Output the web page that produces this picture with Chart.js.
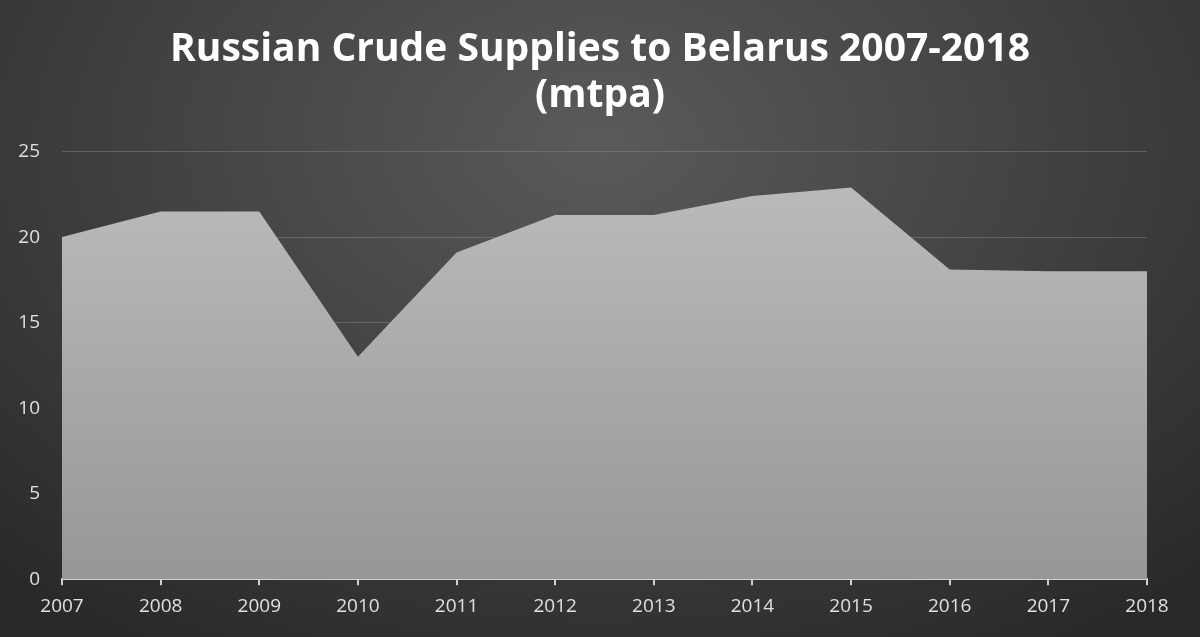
<!DOCTYPE html>
<html>
<head>
<meta charset="utf-8">
<script src="https://cdn.jsdelivr.net/npm/chart.js@4"></script>
<style>
  html, body { margin: 0; padding: 0; }
  body {
    width: 1200px; height: 637px; overflow: hidden;
    background: radial-gradient(ellipse 75% 95% at 50% 22%, #5a5a5a 0%, #444444 45%, #282828 100%);
  }
  #chart { display: block; }
</style>
</head>
<body>
<canvas id="chart" width="1200" height="637"></canvas>
<script>
const years = ["2007", "2008", "2009", "2010", "2011", "2012", "2013", "2014", "2015", "2016", "2017", "2018"];
const supplies = [20, 21.5, 21.5, 13, 19.1, 21.3, 21.3, 22.4, 22.9, 18.1, 18, 18];
const titleLines = ["Russian Crude Supplies to Belarus 2007-2018", "(mtpa)"];

function areaFill(context) {
  const chart = context.chart;
  const area = chart.chartArea;
  if (!area) return "#aaaaaa";
  const g = chart.ctx.createLinearGradient(0, area.top, 0, area.bottom);
  g.addColorStop(0, "#bdbdbd");
  g.addColorStop(1, "#979797");
  return g;
}

const ctx = document.getElementById("chart").getContext("2d");
new Chart(ctx, {
  type: "line",
  data: {
    labels: years,
    datasets: [{
      data: supplies,
      fill: "origin",
      backgroundColor: areaFill,
      borderWidth: 0,
      borderColor: "rgba(0,0,0,0)",
      pointRadius: 0,
      tension: 0
    }]
  },
  options: {
    responsive: false,
    animation: false,
    devicePixelRatio: 1,
    layout: { padding: { left: 5, right: 5, top: 0, bottom: 9 } },
    plugins: {
      legend: { display: false },
      tooltip: { enabled: false },
      title: {
        display: true,
        text: titleLines,
        color: "#ffffff",
        font: { family: "Open Sans", size: 39, weight: "bold", lineHeight: 1.2 },
        padding: { top: 26, bottom: 32 }
      }
    },
    scales: {
      x: {
        offset: false,
        grid: {
          display: true,
          drawOnChartArea: false,
          drawTicks: true,
          tickLength: 6,
          color: "#d0d0d0",
          lineWidth: 2
        },
        border: { display: true, color: "#d0d0d0", width: 2 },
        ticks: { color: "#e0e0e0", font: { family: "Open Sans", size: 19 }, padding: 10, maxRotation: 0 }
      },
      y: {
        min: 0,
        max: 25,
        afterFit: scale => { scale.width = 57; },
        ticks: { stepSize: 5, color: "#e0e0e0", font: { family: "Open Sans", size: 19 }, padding: 22 },
        grid: { color: "rgba(140,140,140,0.45)", lineWidth: 1, drawTicks: false },
        border: { display: false }
      },
      // empty right-hand axis: reserves space so the plot ends where the reference does
      yRight: {
        position: "right",
        min: 0,
        max: 25,
        afterFit: scale => { scale.width = 48; },
        ticks: { display: false },
        grid: { display: false },
        border: { display: false }
      }
    }
  }
});
</script>
</body>
</html>
